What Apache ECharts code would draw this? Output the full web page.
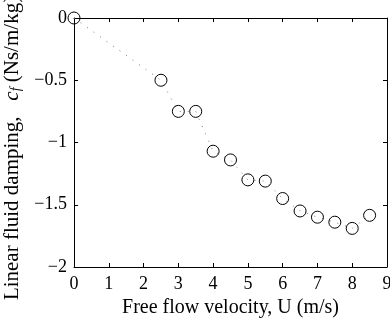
<!DOCTYPE html>
<html>
<head>
<meta charset="utf-8">
<script src="https://cdn.jsdelivr.net/npm/echarts@6/dist/echarts.min.js"></script>
<style>
  html, body { margin: 0; padding: 0; background: #fff; }
  #chart { width: 390px; height: 318px; }
</style>
</head>
<body>
<div id="chart"></div>
<script>
// free flow velocity (m/s) and linear fluid damping c_f
var velocity = [0, 2.5, 3, 3.5, 4, 4.5, 5, 5.5, 6, 6.5, 7, 7.5, 8, 8.5];
var damping = [0, -0.50, -0.75, -0.75, -1.07, -1.14, -1.30, -1.31, -1.45, -1.55, -1.60, -1.64, -1.69, -1.585];

var pts = velocity.map(function (v, i) { return [v, damping[i]]; });
var font = 'Liberation Serif';

function boxAxis(extra) {
    var ax = {
        type: 'value',
        axisLine: { onZero: false, lineStyle: { color: '#000', width: 1 } },
        axisTick: { inside: true, length: 4, lineStyle: { color: '#000' } },
        axisLabel: { show: false },
        splitLine: { show: false }
    };
    for (var k in extra) ax[k] = extra[k];
    return ax;
}

var myChart = echarts.init(document.getElementById('chart'));
var option = {
    animation: false,
    grid: { left: 74, right: 3, top: 18, bottom: 51, outerBoundsMode: 'none' },
    xAxis: [
        boxAxis({
            min: 0, max: 9, interval: 1, position: 'bottom',
            name: 'Free flow velocity, U (m/s)',
            nameLocation: 'middle', nameGap: 30,
            nameTextStyle: { fontFamily: font, fontSize: 20, color: '#000' },
            axisLabel: { fontFamily: font, fontSize: 18, color: '#000', margin: 8 }
        }),
        boxAxis({ min: 0, max: 9, interval: 1, position: 'top' })
    ],
    yAxis: [
        boxAxis({
            min: -2, max: 0, interval: 0.5, position: 'left',
            name: '{a|Linear fluid damping,   }{i|c}{s|f}{a| (Ns/m/kg)}',
            nameLocation: 'middle', nameGap: 48, nameRotate: 90,
            nameTextStyle: {
                color: '#000',
                padding: [0, 11, 0, 0],
                rich: {
                    a: { fontFamily: font, fontSize: 21, color: '#000' },
                    i: { fontFamily: font, fontSize: 21, fontStyle: 'italic', color: '#000' },
                    s: { fontFamily: font, fontSize: 14, fontStyle: 'italic', color: '#000', verticalAlign: 'bottom', padding: [7, 0, 0, 0] }
                }
            },
            axisLabel: {
                fontFamily: font, fontSize: 18, color: '#000', margin: 7,
                formatter: function (v) { return String(v).replace('-', '\u2212'); }
            }
        }),
        boxAxis({ min: -2, max: 0, interval: 0.5, position: 'right' })
    ],
    series: [{
        type: 'line',
        data: pts,
        symbol: 'circle',
        symbolSize: 12,
        clip: false,
        lineStyle: { color: '#777', width: 1, type: [1, 7] },
        itemStyle: { color: 'rgba(0,0,0,0)', borderColor: '#000', borderWidth: 1 }
    }]
};
myChart.setOption(option);
</script>
</body>
</html>
